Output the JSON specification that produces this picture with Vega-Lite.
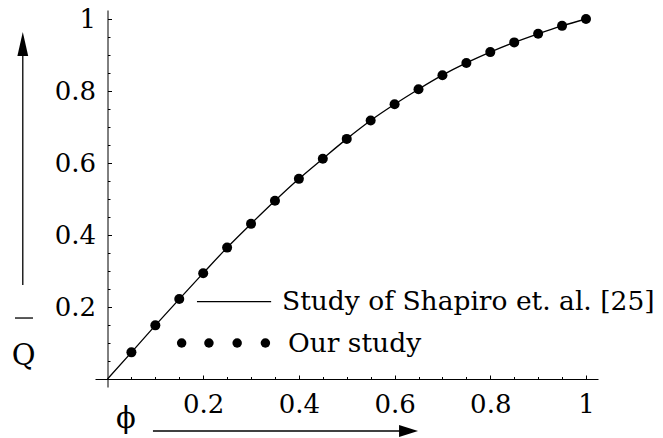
{
  "$schema": "https://vega.github.io/schema/vega-lite/v6.json",
  "autosize": {"type": "none"},
  "padding": {"left": 95, "top": 10, "right": 65, "bottom": 51},
  "width": 503,
  "height": 377,
  "background": "white",
  "config": {"view": {"stroke": null}, "font": "DejaVu Serif"},
  "datasets": {
    "shapiro": [
      {"phi": 0, "q": 0}, {"phi": 0.05, "q": 0.074}, {"phi": 0.1, "q": 0.149}, {"phi": 0.15, "q": 0.222},
      {"phi": 0.2, "q": 0.294}, {"phi": 0.25, "q": 0.365}, {"phi": 0.3, "q": 0.431}, {"phi": 0.35, "q": 0.495},
      {"phi": 0.4, "q": 0.556}, {"phi": 0.45, "q": 0.612}, {"phi": 0.5, "q": 0.667}, {"phi": 0.55, "q": 0.718},
      {"phi": 0.6, "q": 0.763}, {"phi": 0.65, "q": 0.805}, {"phi": 0.7, "q": 0.844}, {"phi": 0.75, "q": 0.878},
      {"phi": 0.8, "q": 0.908}, {"phi": 0.85, "q": 0.935}, {"phi": 0.9, "q": 0.959}, {"phi": 0.95, "q": 0.981},
      {"phi": 1, "q": 1}
    ],
    "ours": [
      {"phi": 0.05, "q": 0.074}, {"phi": 0.1, "q": 0.149}, {"phi": 0.15, "q": 0.222},
      {"phi": 0.2, "q": 0.294}, {"phi": 0.25, "q": 0.365}, {"phi": 0.3, "q": 0.431}, {"phi": 0.35, "q": 0.495},
      {"phi": 0.4, "q": 0.556}, {"phi": 0.45, "q": 0.612}, {"phi": 0.5, "q": 0.667}, {"phi": 0.55, "q": 0.718},
      {"phi": 0.6, "q": 0.763}, {"phi": 0.65, "q": 0.805}, {"phi": 0.7, "q": 0.844}, {"phi": 0.75, "q": 0.878},
      {"phi": 0.8, "q": 0.908}, {"phi": 0.85, "q": 0.935}, {"phi": 0.9, "q": 0.959}, {"phi": 0.95, "q": 0.981},
      {"phi": 1, "q": 1}
    ]
  },
  "resolve": {"axis": {"x": "independent", "y": "independent"}},
  "layer": [
    {
      "data": {"name": "shapiro"},
      "mark": {"type": "line", "color": "black", "strokeWidth": 1.3, "interpolate": "monotone"},
      "encoding": {
        "x": {"field": "phi", "type": "quantitative",
          "scale": {"domain": [-0.0261, 1.0251], "nice": false, "zero": false},
          "axis": {"orient": "bottom", "offset": -8, "values": [0.2, 0.4, 0.6, 0.8, 1], "format": "~g",
            "tickSize": -4, "tickColor": "black", "tickWidth": 1, "domainColor": "black", "domainWidth": 1,
            "labelFont": "DejaVu Serif", "labelFontSize": 26, "labelColor": "black", "labelPadding": 16,
            "labelFlush": false, "labelOverlap": false, "labelBound": false, "grid": false, "title": null}},
        "y": {"field": "q", "type": "quantitative",
          "scale": {"domain": [-0.0222, 1.025], "nice": false, "zero": false},
          "axis": {"orient": "left", "offset": -12.5, "values": [0.2, 0.4, 0.6, 0.8, 1], "format": "~g",
            "tickSize": -4, "tickColor": "black", "tickWidth": 1, "domainColor": "black", "domainWidth": 1,
            "labelFont": "DejaVu Serif", "labelFontSize": 26, "labelColor": "black", "labelPadding": 16,
            "labelFlush": false, "labelOverlap": false, "labelBound": false, "grid": false, "title": null}}
      }
    },
    {
      "data": {"name": "ours"},
      "mark": {"type": "point", "filled": true, "color": "black", "opacity": 1, "size": 100},
      "encoding": {
        "x": {"field": "phi", "type": "quantitative",
          "scale": {"domain": [-0.0261, 1.0251], "nice": false, "zero": false},
          "axis": {"orient": "bottom", "offset": -8,
            "values": [0.05, 0.1, 0.15, 0.25, 0.3, 0.35, 0.45, 0.5, 0.55, 0.65, 0.7, 0.75, 0.85, 0.9, 0.95],
            "tickSize": -2.5, "tickColor": "black", "tickWidth": 1, "domain": false, "labels": false,
            "grid": false, "title": null}},
        "y": {"field": "q", "type": "quantitative",
          "scale": {"domain": [-0.0222, 1.025], "nice": false, "zero": false},
          "axis": {"orient": "left", "offset": -12.5,
            "values": [0.05, 0.1, 0.15, 0.25, 0.3, 0.35, 0.45, 0.5, 0.55, 0.65, 0.7, 0.75, 0.85, 0.9, 0.95],
            "tickSize": -2.5, "tickColor": "black", "tickWidth": 1, "domain": false, "labels": false,
            "grid": false, "title": null}}
      }
    },
    {
      "data": {"values": [{"phi": 0.187, "phi2": 0.342, "q": 0.215}]},
      "mark": {"type": "rule", "color": "black", "strokeWidth": 1.2},
      "encoding": {
        "x": {"field": "phi", "type": "quantitative", "axis": null},
        "x2": {"field": "phi2"},
        "y": {"field": "q", "type": "quantitative", "axis": null}
      }
    },
    {
      "data": {"values": [{"phi": 0.155, "q": 0.1}, {"phi": 0.212, "q": 0.1}, {"phi": 0.271, "q": 0.1}, {"phi": 0.33, "q": 0.1}]},
      "mark": {"type": "point", "filled": true, "color": "black", "opacity": 1, "size": 90},
      "encoding": {
        "x": {"field": "phi", "type": "quantitative", "axis": null},
        "y": {"field": "q", "type": "quantitative", "axis": null}
      }
    },
    {
      "data": {"values": [
        {"phi": 0.3647, "q": 0.193, "label": "Study of Shapiro et. al. [25]"},
        {"phi": 0.3772, "q": 0.076, "label": "Our study"}
      ]},
      "mark": {"type": "text", "align": "left", "baseline": "alphabetic", "font": "DejaVu Serif", "fontSize": 26.5, "color": "black"},
      "encoding": {
        "x": {"field": "phi", "type": "quantitative", "axis": null},
        "y": {"field": "q", "type": "quantitative", "axis": null},
        "text": {"field": "label"}
      }
    },
    {
      "data": {"values": [
        {"phi": -0.175, "q": 0.039, "label": "Q"},
        {"phi": 0.0387, "q": -0.136, "label": "ϕ"}
      ]},
      "mark": {"type": "text", "align": "center", "baseline": "alphabetic", "font": "DejaVu Serif", "fontSize": 29, "color": "black"},
      "encoding": {
        "x": {"field": "phi", "type": "quantitative", "axis": null},
        "y": {"field": "q", "type": "quantitative", "axis": null},
        "text": {"field": "label"}
      }
    },
    {
      "data": {"values": [
        {"phi": -0.1933, "phi2": -0.1557, "q": 0.1694},
        {"phi": 0.095, "phi2": 0.62, "q": -0.1444}
      ]},
      "mark": {"type": "rule", "color": "black", "strokeWidth": 1.3},
      "encoding": {
        "x": {"field": "phi", "type": "quantitative", "axis": null},
        "x2": {"field": "phi2"},
        "y": {"field": "q", "type": "quantitative", "axis": null}
      }
    },
    {
      "data": {"values": [{"phi": -0.177, "q": 0.261, "q2": 0.93}]},
      "mark": {"type": "rule", "color": "black", "strokeWidth": 1.3},
      "encoding": {
        "x": {"field": "phi", "type": "quantitative", "axis": null},
        "y": {"field": "q", "type": "quantitative", "axis": null},
        "y2": {"field": "q2"}
      }
    },
    {
      "data": {"values": [{"phi": -0.177, "q": 0.964}]},
      "mark": {"type": "point", "filled": true, "color": "black", "opacity": 1, "size": 576, "shape": "M0,0L0.45,2L-0.45,2Z"},
      "encoding": {
        "x": {"field": "phi", "type": "quantitative", "axis": null},
        "y": {"field": "q", "type": "quantitative", "axis": null}
      }
    },
    {
      "data": {"values": [{"phi": 0.649, "q": -0.1444}]},
      "mark": {"type": "point", "filled": true, "color": "black", "opacity": 1, "size": 361, "shape": "M0,0L-2,-0.62L-2,0.62Z"},
      "encoding": {
        "x": {"field": "phi", "type": "quantitative", "axis": null},
        "y": {"field": "q", "type": "quantitative", "axis": null}
      }
    }
  ]
}
